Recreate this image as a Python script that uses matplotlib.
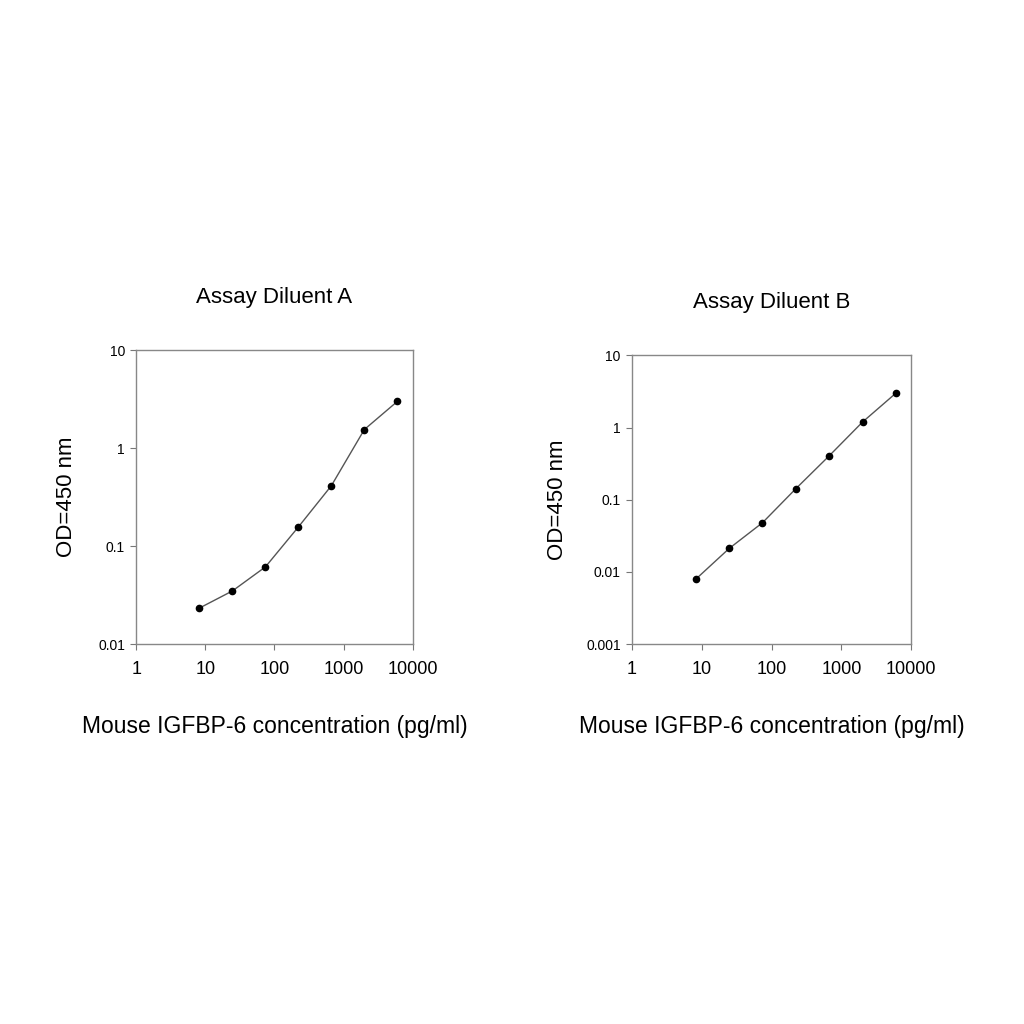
import numpy as np
import matplotlib.pyplot as plt
from matplotlib.ticker import FixedLocator, FixedFormatter, NullLocator

plt.rcParams['font.family'] = ['Liberation Sans', 'DejaVu Sans']

# mouse IGFBP-6 standard curve, 3-fold dilutions
conc = [8.2, 24.7, 74.1, 222.2, 666.7, 2000, 6000]
od_a = [0.0233, 0.0349, 0.0614, 0.157, 0.414, 1.55, 3.0]
od_b = [0.0079, 0.0211, 0.048, 0.142, 0.405, 1.19, 2.99]

x_ticks = [1, 10, 100, 1000, 10000]
x_labels = ['1', '10', '100', '1000', '10000']
ya_ticks = [0.01, 0.1, 1, 10]
ya_labels = ['0.01', '0.1', '1', '10']
yb_ticks = [0.001, 0.01, 0.1, 1, 10]
yb_labels = ['0.001', '0.01', '0.1', '1', '10']

fig = plt.figure(figsize=(10.24, 10.24), dpi=100)
ax1 = fig.add_axes([0.133, 0.371, 0.270, 0.287])
ax2 = fig.add_axes([0.617, 0.371, 0.273, 0.282])

panels = [
    (ax1, od_a, 'Assay Diluent A', ya_ticks, ya_labels, 15),
    (ax2, od_b, 'Assay Diluent B', yb_ticks, yb_labels, 13),
]

for ax, od, title, yt, yl, ypad in panels:
    ax.plot(conc, od, color='#555555', lw=1.0, marker='o', ms=4.5,
            mfc='black', mec='black')
    ax.set_xscale('log')
    ax.set_yscale('log')
    ax.set_xlim(1, 10000)
    ax.set_ylim(yt[0], yt[-1])
    ax.xaxis.set_major_locator(FixedLocator(x_ticks))
    ax.xaxis.set_major_formatter(FixedFormatter(x_labels))
    ax.yaxis.set_major_locator(FixedLocator(yt))
    ax.yaxis.set_major_formatter(FixedFormatter(yl))
    ax.xaxis.set_minor_locator(NullLocator())
    ax.yaxis.set_minor_locator(NullLocator())
    ax.tick_params(axis='x', labelsize=13, length=4, color='#777777', pad=8)
    ax.tick_params(axis='y', labelsize=10, length=4, color='#777777', pad=4)
    for s in ax.spines.values():
        s.set_color('#888888')
        s.set_linewidth(1.0)
    ax.set_title(title, fontsize=16, pad=34)
    ax.set_xlabel('Mouse IGFBP-6 concentration (pg/ml)', fontsize=16.5, labelpad=27)
    ax.set_ylabel('OD=450 nm', fontsize=16, labelpad=ypad)

fig.savefig('out.png', dpi=100, facecolor='white')
